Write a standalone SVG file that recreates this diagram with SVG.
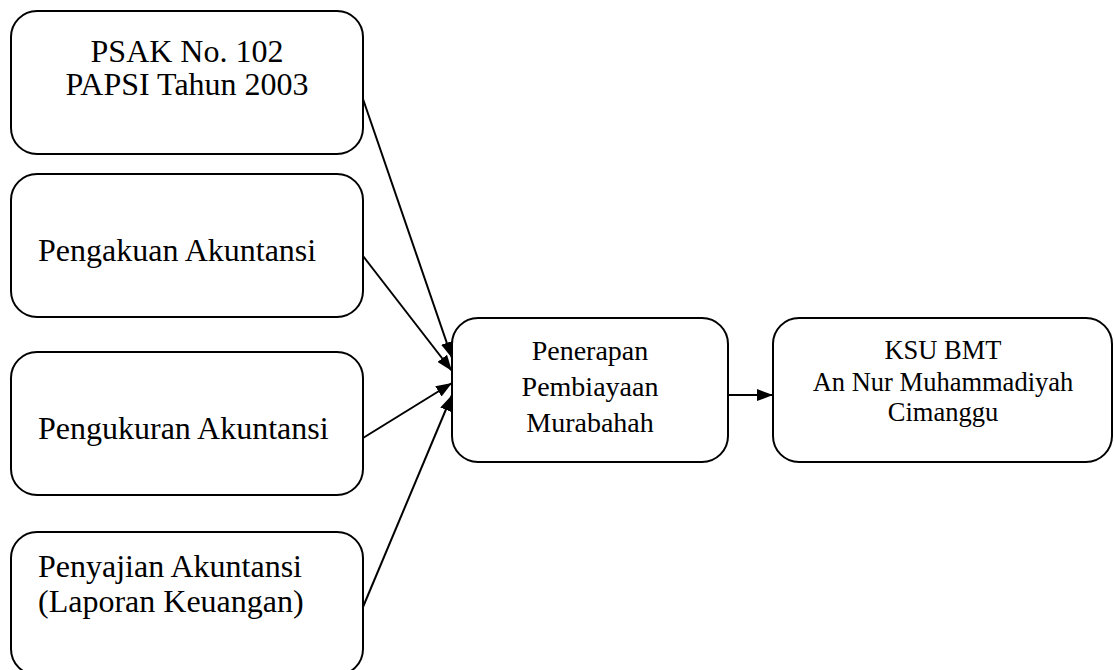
<svg xmlns="http://www.w3.org/2000/svg" width="1114" height="670" viewBox="0 0 1114 670">
<style>
.box{fill:#fff;stroke:#000;stroke-width:2}
text{font-family:"Liberation Serif","Times New Roman","DejaVu Serif",serif;fill:#000}
.l{font-size:32px}
.m{font-size:28px;text-anchor:middle}
.r{font-size:26.5px;text-anchor:middle}
.c{stroke:#000;stroke-width:2;fill:none;marker-end:url(#ah)}
</style>
<defs>
<marker id="ah" viewBox="0 0 16 12" refX="16" refY="6" markerWidth="16" markerHeight="12" markerUnits="userSpaceOnUse" orient="auto">
<path d="M0,0 L16,6 L0,12 z" fill="#000"/>
</marker>
</defs>
<rect width="1114" height="670" fill="#fff"/>
<g id="n1"><rect class="box" x="11" y="11" width="352" height="143" rx="26"/>
<text class="l" x="187" y="62" text-anchor="middle">PSAK No. 102</text>
<text class="l" x="187" y="95" text-anchor="middle">PAPSI Tahun 2003</text></g>
<g id="n2"><rect class="box" x="11" y="174" width="352" height="143" rx="26"/>
<text class="l" x="38" y="261">Pengakuan Akuntansi</text></g>
<g id="n3"><rect class="box" x="11" y="352" width="352" height="143" rx="26"/>
<text class="l" x="38" y="439">Pengukuran Akuntansi</text></g>
<g id="n4"><rect class="box" x="11" y="532" width="352" height="143" rx="26"/>
<text class="l" x="38" y="577">Penyajian Akuntansi</text>
<text class="l" x="38" y="612">(Laporan Keuangan)</text></g>
<g id="n5"><rect class="box" x="452" y="318" width="276" height="144" rx="26"/>
<text class="m" x="590" y="360">Penerapan</text>
<text class="m" x="590" y="396">Pembiayaan</text>
<text class="m" x="590" y="432">Murabahah</text></g>
<g id="n6"><rect class="box" x="773" y="318" width="339" height="144" rx="26"/>
<text class="r" x="943" y="359">KSU BMT</text>
<text class="r" x="943" y="391">An Nur Muhammadiyah</text>
<text class="r" x="943" y="421">Cimanggu</text></g>
<g id="connectors">
<line class="c" x1="363" y1="99" x2="452" y2="358"/>
<line class="c" x1="363" y1="256" x2="452" y2="371"/>
<line class="c" x1="363" y1="438" x2="452" y2="383"/>
<line class="c" x1="363" y1="607" x2="452" y2="395"/>
<line class="c" x1="728" y1="395" x2="773" y2="395"/>
</g>
</svg>
